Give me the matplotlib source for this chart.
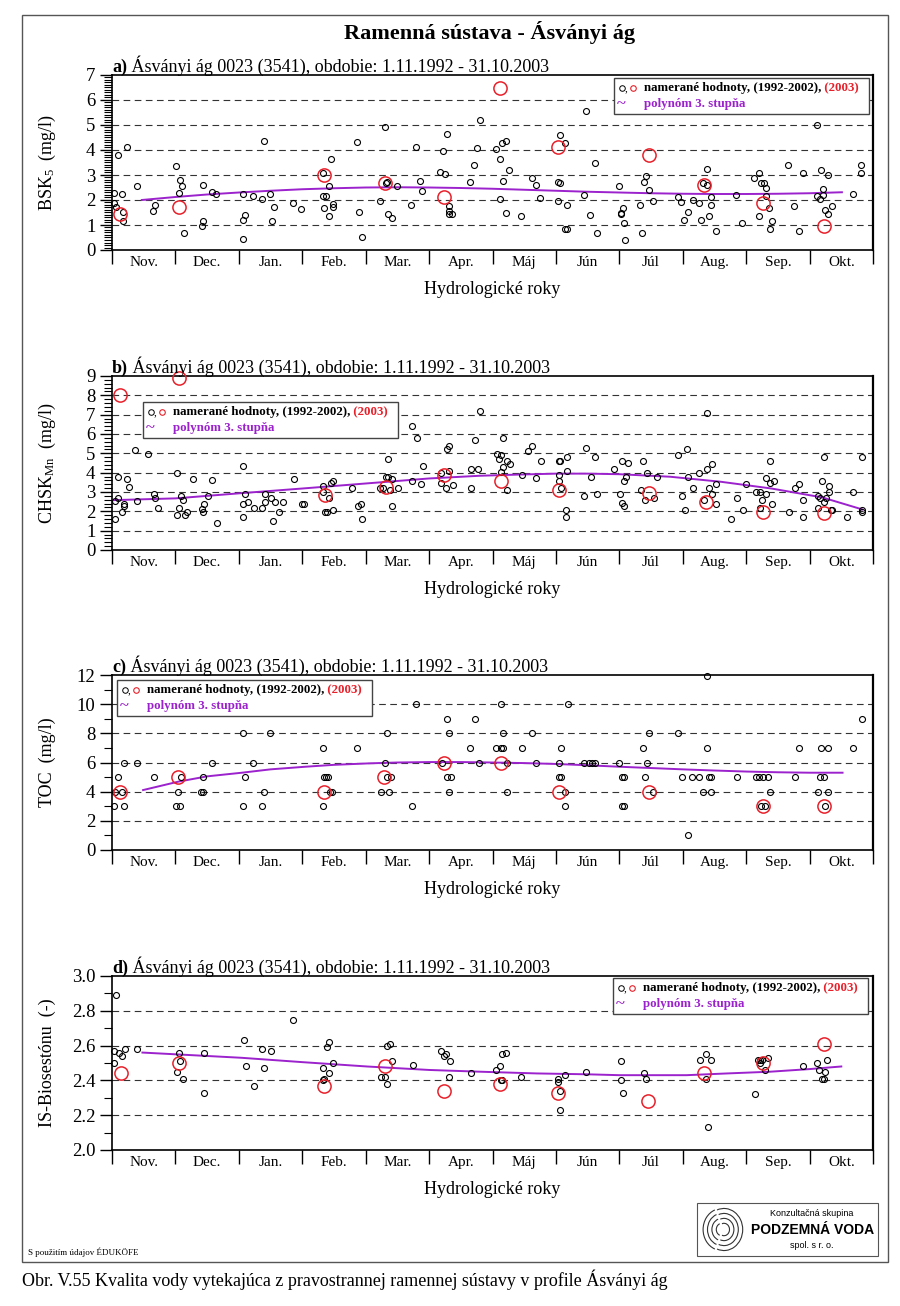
import numpy as np
import matplotlib
matplotlib.use("Agg")
import matplotlib.pyplot as plt
from matplotlib.patches import Rectangle, Arc
from matplotlib.ticker import MultipleLocator, FixedLocator

plt.rcParams['font.family'] = ['Liberation Serif', 'DejaVu Serif']
plt.rcParams['mathtext.fontset'] = 'custom'
plt.rcParams['mathtext.rm'] = 'Liberation Serif'
plt.rcParams['mathtext.it'] = 'Liberation Serif:italic'

# ---------------- data ----------------
months = ["Nov.", "Dec.", "Jan.", "Feb.", "Mar.", "Apr.", "Máj", "Jún", "Júl", "Aug.", "Sep.", "Okt."]

# a) BSK5
a_bx = [0.03, 0.03, 0.06, 0.09, 0.16, 0.18, 0.18, 0.23, 0.39, 0.65, 0.68, 1.01, 1.08, 1.11, 1.05, 1.14, 1.42, 1.44,
        1.44, 1.57, 1.64, 2.06, 2.06, 2.09, 2.06, 2.23, 2.36, 2.39, 2.49, 2.55, 2.52, 2.86, 2.98, 3.32, 3.38, 3.32,
        3.34, 3.42, 3.45, 3.42, 3.48, 3.48, 3.87, 3.9, 3.95, 4.23, 4.3, 4.32, 4.33, 4.36, 4.41, 4.5, 4.72, 4.8, 4.86,
        4.89, 5.18, 5.25, 5.22, 5.29, 5.31, 5.31, 5.32, 5.36, 5.65, 5.71, 5.76, 5.81,
        6.06, 6.12, 6.15, 6.21, 6.26, 6.16, 6.12, 6.22, 6.45, 6.62, 6.69, 6.75, 7.07, 7.15, 7.04, 7.07, 7.04, 7.17,
        7.15, 7.17, 7.44, 7.48, 7.61, 7.54, 7.64, 8.0, 8.02, 8.05, 8.02, 8.07, 8.09, 8.33, 8.36, 8.39, 8.42, 8.47,
        8.53, 8.92, 8.98, 9.02, 9.08, 9.16, 9.26, 9.28, 9.32, 9.38, 9.39, 9.44, 9.44, 9.41, 9.52, 9.84, 9.94, 10.13,
        10.21, 10.24, 10.28, 10.31, 10.31, 10.36, 10.21, 10.41, 10.38, 10.66, 10.76, 10.84, 10.89, 11.12, 11.18,
        11.29, 11.21, 11.11, 11.16, 11.21, 11.24, 11.29, 11.35, 11.68, 11.81, 11.81]
a_by = [2.27, 1.89, 1.73, 3.79, 2.24, 1.53, 1.17, 4.12, 2.57, 1.55, 1.8, 3.36, 2.8, 2.56, 2.29, 0.67, 0.96, 1.15,
        2.6, 2.31, 2.24, 2.24, 1.19, 1.41, 0.43, 2.16, 2.05, 4.36, 2.24, 1.73, 1.15, 1.89, 1.65, 2.16, 2.16, 3.07,
        1.69, 2.57, 3.63, 1.36, 1.83, 1.73, 4.33, 1.51, 0.51, 1.97, 4.92, 2.67, 2.72, 1.45, 1.28, 2.57, 1.79, 4.13,
        2.76, 2.36, 3.13, 3.03, 3.97, 4.64, 1.76, 1.56, 1.43, 1.45, 2.71, 3.4, 4.07, 5.19,
        4.03, 3.64, 4.27, 4.36, 3.2, 2.76, 2.05, 1.49, 1.37, 2.89, 2.6, 2.07, 4.61, 4.29, 2.72, 2.67, 1.97, 1.79,
        0.85, 0.85, 2.21, 5.57, 3.47, 1.4, 0.69, 2.55, 1.49, 1.69, 1.44, 1.09, 0.39, 1.79, 0.69, 2.72, 2.97, 2.39,
        1.97, 2.13, 1.92, 1.19, 1.53, 2.0, 1.87, 1.2, 2.69, 3.24, 2.59, 2.11, 1.81, 1.36, 0.77, 2.2, 1.09, 2.88,
        3.08, 2.69, 2.67, 2.48, 2.16, 1.68, 1.37, 1.16, 0.85, 3.39, 1.76, 0.75, 3.08, 4.99, 3.19,
        3.0, 2.45, 2.17, 2.03, 2.19, 1.6, 1.44, 1.76, 2.25, 3.4, 3.09]
a_rx = [0.12, 1.05, 3.34, 4.3, 5.23, 6.12, 7.04, 8.46, 9.34, 10.26, 11.23]
a_ry = [1.44, 1.73, 3.0, 2.68, 2.11, 6.49, 4.13, 3.79, 2.6, 1.87, 0.96]
a_px = [0.47, 1.0, 1.5, 2.0, 2.5, 3.0, 3.5, 4.0, 4.5, 5.0, 5.5, 6.0, 6.5, 7.0, 7.5, 8.0, 8.5, 9.0, 9.5, 10.0,
        10.5, 11.0, 11.51]
a_py = [2.0, 2.12, 2.22, 2.3, 2.37, 2.43, 2.47, 2.5, 2.51, 2.5, 2.48, 2.45, 2.41, 2.37, 2.33, 2.3, 2.27, 2.25,
        2.24, 2.24, 2.25, 2.27, 2.31]

# b) CHSK_Mn
b_bx = [0.04, 0.04, 0.09, 0.09, 0.16, 0.19, 0.19, 0.24, 0.27, 0.37, 0.4, 0.56, 0.66, 0.68, 0.73, 1.02, 1.02, 1.06,
        1.09, 1.12, 1.15, 1.19, 1.28, 1.42, 1.44, 1.45, 1.51, 1.58, 1.65, 2.07, 2.07, 2.07, 2.1, 2.15, 2.24, 2.37,
        2.41, 2.41, 2.51, 2.54, 2.57, 2.63, 2.69, 2.87, 2.99, 3.03, 3.33, 3.33, 3.36, 3.39, 3.42, 3.46, 3.49, 3.49,
        3.78, 3.88, 3.92, 3.95, 4.23, 4.27, 4.32, 4.35, 4.35, 4.41, 4.41, 4.38, 4.51, 4.73, 4.81, 4.87, 4.91, 4.73,
        5.19, 5.19, 5.29, 5.32, 5.32, 5.37, 5.26, 5.66, 5.66, 5.73, 5.77, 5.81,
        6.07, 6.11, 6.14, 6.17, 6.17, 6.23, 6.27, 6.14, 6.23, 6.46, 6.56, 6.63, 6.69, 6.76, 7.05, 7.07, 7.18, 7.18,
        7.05, 7.05, 7.08, 7.16, 7.16, 7.45, 7.48, 7.55, 7.62, 7.65, 7.91, 8.01, 8.04, 8.07, 8.1, 8.14, 8.04, 8.07,
        8.37, 8.44, 8.34, 8.4, 8.54, 8.6, 8.93, 9.06, 9.09, 8.99, 9.03, 9.16, 9.26, 9.39, 9.39, 9.46, 9.42, 9.46,
        9.33, 9.53, 9.53, 9.76, 9.86, 9.95, 9.99, 10.15, 10.22, 10.25, 10.32, 10.32, 10.38, 10.38, 10.44, 10.41,
        10.22, 10.67, 10.77, 10.84, 10.9, 10.9, 11.14, 11.17, 11.2, 11.23, 11.23, 11.26, 11.3, 11.3, 11.14, 11.36,
        11.33, 11.59, 11.69, 11.83, 11.83, 11.83]
b_by = [1.58, 2.51, 2.68, 3.79, 1.98, 2.38, 2.27, 3.68, 3.27, 5.16, 2.56, 4.99, 2.89, 2.67, 2.19, 3.96, 1.79, 2.19,
        2.79, 2.58, 1.79, 1.98, 3.68, 2.1, 1.94, 2.38, 2.79, 3.6, 1.38, 4.37, 1.69, 2.38, 2.89, 2.48, 2.17, 2.17,
        2.89, 2.48, 2.68, 1.48, 2.48, 1.98, 2.48, 3.68, 2.38, 2.38, 3.3, 2.99, 1.98, 1.98, 2.68, 3.48, 3.58, 2.07,
        3.2, 2.27, 2.38, 1.58, 3.2, 3.2, 3.79, 3.79, 4.72, 3.68, 2.27, 3.1, 3.2, 6.4, 5.8, 3.39, 4.37, 3.58,
        3.48, 3.99, 5.2, 5.4, 4.1, 3.37, 3.2, 4.18, 3.2, 5.68, 4.18, 7.19,
        4.99, 4.7, 4.9, 5.8, 4.27, 4.6, 4.47, 4.01, 3.1, 3.87, 5.13, 5.39, 3.7, 4.58, 4.58, 4.58, 4.82, 4.1,
        3.87, 3.58, 3.2, 2.07, 1.69, 2.79, 5.3, 3.79, 4.82, 2.89, 4.18, 2.89, 4.58, 3.58, 3.79, 4.49, 2.41, 2.27,
        4.58, 3.99, 3.1, 2.58, 2.67, 3.79, 4.9, 5.2, 3.79, 2.79, 2.07, 3.2, 3.99, 7.09, 4.18, 4.47, 3.2, 2.89,
        2.58, 3.39, 2.38, 1.58, 2.67, 2.07, 3.39, 2.99, 2.99, 2.58, 2.89, 3.7, 4.58, 3.48, 3.58, 2.38,
        2.19, 1.98, 3.2, 3.39, 2.58, 1.69, 2.79, 2.67, 3.58, 4.82, 2.48, 2.67, 3.3, 2.99, 2.19, 2.07,
        2.07, 1.69, 2.99, 4.82, 2.07, 1.98]
b_rx = [0.13, 1.06, 3.36, 4.32, 5.24, 6.13, 7.05, 8.47, 9.36, 10.27, 11.23]
b_ry = [8.02, 8.9, 2.87, 3.24, 3.87, 3.56, 3.1, 2.93, 2.48, 1.98, 1.89]
b_px = [0.03, 1.0, 2.0, 3.0, 4.0, 5.0, 5.8, 6.4, 7.0, 7.5, 8.0, 8.8, 9.6, 10.4, 11.2, 11.83]
b_py = [2.58, 2.67, 2.93, 3.18, 3.44, 3.7, 3.84, 3.9, 3.95, 3.95, 3.92, 3.79, 3.53, 3.18, 2.72, 2.1]

# c) TOC
c_bx = [0.03, 0.05, 0.09, 0.15, 0.19, 0.19, 0.39, 0.66, 1.01, 1.08, 1.04, 1.09, 1.41, 1.44, 1.44, 1.57, 2.07, 2.1,
        2.07, 2.23, 2.36, 2.39, 2.49, 3.32, 3.32, 3.34, 3.38, 3.41, 3.44, 3.47, 3.87, 4.24, 4.3, 4.34, 4.33, 4.37,
        4.4, 4.73, 4.79, 5.2, 5.29, 5.32, 5.28, 5.34, 5.32, 5.65, 5.72, 5.78,
        6.06, 6.13, 6.16, 6.14, 6.16, 6.23, 6.23, 6.46, 6.62, 6.69, 7.05, 7.08, 7.05, 7.08, 7.15, 7.15, 7.19, 7.45,
        7.52, 7.57, 7.61, 7.99, 8.04, 8.07, 8.04, 8.07, 8.37, 8.4, 8.43, 8.46, 8.53, 8.93, 8.99, 9.09, 9.15, 9.25,
        9.32, 9.38, 9.38, 9.41, 9.45, 9.45, 9.85, 10.15, 10.21, 10.27, 10.34, 10.24, 10.29, 10.37, 10.77, 10.83,
        11.13, 11.16, 11.23, 11.18, 11.29, 11.29, 11.25, 11.68, 11.82]
c_by = [3, 4, 5, 4, 6, 3, 6, 5, 3, 3, 4, 5, 4, 4, 5, 6, 8, 5,
        3, 6, 3, 4, 8, 7, 3, 5, 5, 5, 4, 4, 7, 4, 6, 8, 5, 4,
        5, 3, 10, 6, 9, 8, 5, 5, 4, 7, 9, 6,
        7, 7, 7, 10, 8, 6, 4, 7, 8, 6, 6, 7, 5, 5, 4, 3, 10, 6,
        6, 6, 6, 6, 5, 5, 3, 3, 7, 5, 6, 8, 4, 8, 5, 1, 5, 5,
        4, 11.93, 7, 5, 5, 4, 5, 5, 5, 5, 5, 3, 3, 4, 5, 7,
        4, 5, 5, 7, 7, 4, 3, 7, 9]
c_rx = [0.12, 1.04, 3.34, 4.29, 5.23, 6.14, 7.05, 8.46, 10.27, 11.23]
c_ry = [4, 5, 4, 5, 6, 6, 4, 4, 3, 3]
c_px = [0.49, 1.05, 1.5, 2.05, 2.5, 3.05, 3.5, 4.05, 4.5, 5.0, 5.5, 6.0, 6.5, 7.0, 7.5, 8.0, 8.5, 9.0, 9.5, 10.0,
        10.5, 11.0, 11.52]
c_py = [4.11, 4.69, 5.05, 5.3, 5.53, 5.71, 5.84, 5.94, 6.0, 6.03, 6.03, 6.0, 5.96, 5.9, 5.81, 5.71, 5.62, 5.53,
        5.45, 5.38, 5.33, 5.3, 5.3]

# d) IS-Biosestónu
d_bx = [0.03, 0.03, 0.07, 0.11, 0.16, 0.21, 0.39, 1.02, 1.05, 1.08, 1.12, 1.45, 1.45, 2.08, 2.11, 2.24, 2.37, 2.4,
        2.5, 2.86, 3.32, 3.32, 3.35, 3.39, 3.42, 3.42, 3.48, 4.24, 4.31, 4.34, 4.38, 4.34, 4.41, 4.74, 5.19, 5.23,
        5.26, 5.31, 5.33, 5.66,
        6.05, 6.12, 6.13, 6.15, 6.15, 6.22, 6.45, 7.04, 7.04, 7.07, 7.07, 7.14, 7.47, 8.03, 8.03, 8.06, 8.39, 8.42,
        9.27, 9.37, 9.44, 9.37, 9.4, 10.14, 10.19, 10.22, 10.25, 10.35, 10.22, 10.29, 10.89, 11.12, 11.15, 11.25,
        11.28, 11.19, 11.22]
d_by = [2.57, 2.5, 2.89, 2.56, 2.54, 2.58, 2.58, 2.45, 2.56, 2.51, 2.41, 2.56, 2.33, 2.63, 2.48, 2.37, 2.58, 2.47,
        2.57, 2.75, 2.47, 2.4, 2.41, 2.59, 2.62, 2.44, 2.5, 2.42, 2.42, 2.6, 2.61, 2.38, 2.51, 2.49, 2.57, 2.54,
        2.55, 2.42, 2.51, 2.44,
        2.46, 2.48, 2.4, 2.4, 2.55, 2.56, 2.42, 2.39, 2.41, 2.34, 2.23, 2.43, 2.45, 2.51, 2.4, 2.33, 2.44, 2.41,
        2.52, 2.55, 2.52, 2.41, 2.13, 2.32, 2.52, 2.52, 2.52, 2.53, 2.5, 2.46, 2.48, 2.5, 2.46, 2.45,
        2.52, 2.41, 2.41]
d_rx = [0.14, 1.05, 3.35, 4.31, 5.24, 6.12, 7.04, 8.45, 9.34, 10.27, 11.23]
d_ry = [2.44, 2.5, 2.37, 2.48, 2.34, 2.38, 2.33, 2.28, 2.44, 2.5, 2.61]
d_px = [0.48, 1.0, 2.04, 3.0, 4.02, 5.0, 5.8, 6.7, 7.5, 8.0, 9.06, 9.7, 10.38, 11.0, 11.5]
d_py = [2.56, 2.55, 2.53, 2.505, 2.48, 2.46, 2.45, 2.44, 2.435, 2.43, 2.43, 2.44, 2.45, 2.465, 2.48]

# ---------------- layout ----------------
W, H = 900, 1306
fig = plt.figure(figsize=(W / 100, H / 100), dpi=100)

def P(x, y):
    return (x / W, 1 - y / H)

L, R = 112, 873
purple = "#9b22cc"
red = "#e8202a"

panels = [
    dict(tag="a)", top=75, bot=250, ylim=(0, 7), major=1, minor=0.1, fmt="{:.0f}", grid=[1, 2, 3, 4, 5, 6],
         ylabel=r"BSK$_5$  (mg/l)", bx=a_bx, by=a_by, rx=a_rx, ry=a_ry, px=a_px, py=a_py, leg=(614, 78)),
    dict(tag="b)", top=376, bot=550, ylim=(0, 9), major=1, minor=0.2, fmt="{:.0f}", grid=[1, 2, 3, 4, 5, 6, 7, 8],
         ylabel=r"CHSK$_{\mathrm{Mn}}$  (mg/l)", bx=b_bx, by=b_by, rx=b_rx, ry=b_ry, px=b_px, py=b_py, leg=(143, 402)),
    dict(tag="c)", top=675, bot=850, ylim=(0, 12), major=2, minor=1, fmt="{:.0f}", grid=[2, 4, 6, 8, 10],
         ylabel="TOC  (mg/l)", bx=c_bx, by=c_by, rx=c_rx, ry=c_ry, px=c_px, py=c_py, leg=(117, 680)),
    dict(tag="d)", top=976, bot=1150, ylim=(2.0, 3.0), major=0.2, minor=0.1, fmt="{:.1f}", grid=[2.2, 2.4, 2.6, 2.8],
         ylabel="IS-Biosestónu  (-)", bx=d_bx, by=d_by, rx=d_rx, ry=d_ry, px=d_px, py=d_py, leg=(613, 978)),
]

subtitle = " Ásványi ág 0023 (3541), obdobie: 1.11.1992 - 31.10.2003"

for p in panels:
    top, bot = p["top"], p["bot"]
    ax = fig.add_axes([L / W, 1 - bot / H, (R - L) / W, (bot - top) / H])
    ax.set_xlim(0, 12)
    ax.set_ylim(*p["ylim"])
    for s in ax.spines.values():
        s.set_linewidth(1.2)
    ax.spines['right'].set_linewidth(1.6)
    # grid
    for g in p["grid"]:
        ax.axhline(g, color="#333333", lw=0.8, ls=(0, (6, 4)), zorder=1)
    # y ticks
    ax.yaxis.set_major_locator(MultipleLocator(p["major"]))
    ax.yaxis.set_minor_locator(MultipleLocator(p["minor"]))
    ticks = ax.get_yticks()
    ax.set_yticks(ticks)
    ax.set_yticklabels([p["fmt"].format(t) for t in ticks], fontsize=13.5)
    ax.set_ylim(*p["ylim"])
    ax.tick_params(axis="y", which="major", direction="out", length=9, width=1.0, pad=3)
    ax.tick_params(axis="y", which="minor", direction="out", length=6, width=0.8)
    # x ticks
    ax.xaxis.set_major_locator(FixedLocator(np.arange(0, 13)))
    ax.xaxis.set_minor_locator(FixedLocator(np.arange(0.5, 12, 1)))
    ax.set_xticklabels([])
    ax.set_xticklabels(months, minor=True, fontsize=11)
    ax.tick_params(axis="x", which="major", direction="out", length=10, width=1.0)
    ax.tick_params(axis="x", which="minor", length=0, pad=4)

    # data
    ax.plot(p["px"], p["py"], color=purple, lw=1.4, zorder=3)
    ax.plot(p["bx"], p["by"], ls="none", marker="o", ms=4.3, mfc="none", mec="black", mew=0.8, zorder=4,
            clip_on=False)
    ax.plot(p["rx"], p["ry"], ls="none", marker="o", ms=9.5, mfc="none", mec=red, mew=1.1, zorder=5,
            clip_on=False)

    # labels
    ymid = (top + bot) / 2
    fig.text(*P(47, ymid), p["ylabel"], rotation=90, ha="center", va="center", fontsize=13)
    fig.text(*P((L + R) / 2, bot + 40), "Hydrologické roky", ha="center", va="center", fontsize=13)
    t1 = fig.text(*P(L, top - 8), p["tag"], ha="left", va="center", fontsize=13, fontweight="bold")
    ann = matplotlib.text.Annotation(subtitle, xy=(1, 0), xycoords=t1, va="bottom", ha="left", fontsize=13)
    fig.add_artist(ann)

    # legend (in axes coordinates converted from pixels)
    def af(x, y, top=top, bot=bot):
        return ((x - L) / (R - L), (bot - y) / (bot - top))
    lx, ly = p["leg"]
    lw_, lh_ = 255, 36
    x0, y0 = af(lx, ly + lh_)
    x1, y1 = af(lx + lw_, ly)
    ax.add_patch(Rectangle((x0, y0), x1 - x0, y1 - y0, transform=ax.transAxes, fc="white", ec="#444444",
                           lw=1.0, zorder=10, clip_on=False))
    r1 = ly + 10
    r2 = ly + 26
    ax.plot(*[[v] for v in af(lx + 8, r1)], transform=ax.transAxes, marker="o", ms=4, mfc="none", mec="black",
            mew=0.7, zorder=11, clip_on=False)
    ax.text(*af(lx + 11, r1 + 1), ",", transform=ax.transAxes, fontsize=8, va="center", ha="left", zorder=11)
    ax.plot(*[[v] for v in af(lx + 19, r1)], transform=ax.transAxes, marker="o", ms=4, mfc="none", mec=red,
            mew=0.8, zorder=11, clip_on=False)
    lt = ax.text(*af(lx + 30, r1), "namerané hodnoty, (1992-2002),", transform=ax.transAxes, fontsize=9.3,
                 fontweight="bold", va="center", ha="left", zorder=11)
    ax.annotate(" (2003)", xy=(1, 0.5), xycoords=lt, va="center", ha="left", fontsize=9.3, fontweight="bold",
                color=red, zorder=11, annotation_clip=False)
    ax.text(*af(lx + 3, r2), "~", transform=ax.transAxes, fontsize=12, fontweight="bold", color=purple,
            va="center", ha="left", zorder=11)
    ax.text(*af(lx + 30, r2), "polynóm 3. stupňa", transform=ax.transAxes, fontsize=9.3, fontweight="bold",
            color=purple, va="center", ha="left", zorder=11)

# title
fig.text(*P(490, 32), "Ramenná sústava - Ásványi ág", ha="center", va="center", fontsize=16, fontweight="bold")

# outer frame
fig.add_artist(Rectangle(P(22, 1262), (888 - 22) / W, (1262 - 15) / H, transform=fig.transFigure, fill=False,
                         ec="#555555", lw=1.0))

# source note
fig.text(*P(28, 1252), "S použitím údajov ÉDUKÖFE", ha="left", va="center", fontsize=6.5)

# logo box
fig.add_artist(Rectangle(P(697, 1256), (878 - 697) / W, (1256 - 1203) / H, transform=fig.transFigure,
                         fill=False, ec="#555555", lw=0.8))
lax = fig.add_axes([702 / W, 1 - 1252 / H, 44 / W, 45 / H])
lax.set_xlim(-1, 1)
lax.set_ylim(-1, 1)
lax.axis("off")
for rr in [0.25, 0.45, 0.65, 0.85]:
    lax.add_patch(Arc((0.0, 0.0), 2 * rr, 2 * rr * 1.1, theta1=250, theta2=110, color="#333333", lw=0.8))
    lax.add_patch(Arc((-0.1, 0.0), 2 * rr, 2 * rr * 1.1, theta1=110, theta2=250, color="#333333", lw=0.8))
fig.text(*P(812, 1213), "Konzultačná skupina", ha="center", va="center", fontsize=6.5,
         family=["Liberation Sans", "DejaVu Sans"])
fig.text(*P(813, 1230), "PODZEMNÁ VODA", ha="center", va="center", fontsize=10, fontweight="bold",
         family=["Liberation Sans", "DejaVu Sans"])
fig.text(*P(812, 1246), "spol. s r. o.", ha="center", va="center", fontsize=6.5,
         family=["Liberation Sans", "DejaVu Sans"])

# caption
fig.text(*P(22, 1280), "Obr. V.55 Kvalita vody vytekajúca z pravostrannej ramennej sústavy v profile Ásványi ág",
         ha="left", va="center", fontsize=13)

fig.savefig("out.png", dpi=100)
